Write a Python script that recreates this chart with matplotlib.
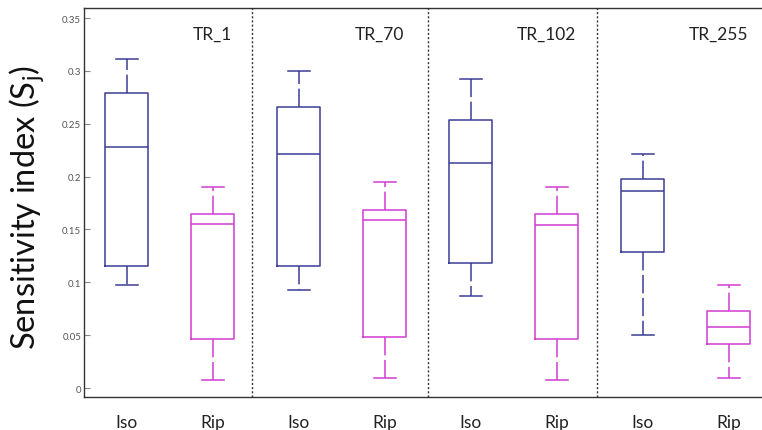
import matplotlib
matplotlib.use("Agg")
import matplotlib.pyplot as plt

# Box statistics per group (whisker low, Q1, median, Q3, whisker high)
groups = ["TR_1", "TR_70", "TR_102", "TR_255"]
labels = ["Iso", "Rip"]

iso_low = [0.097, 0.093, 0.087, 0.050]
iso_q1 = [0.115, 0.115, 0.118, 0.129]
iso_med = [0.228, 0.221, 0.213, 0.186]
iso_q3 = [0.279, 0.266, 0.254, 0.198]
iso_high = [0.311, 0.300, 0.292, 0.221]

rip_low = [0.008, 0.009, 0.008, 0.009]
rip_q1 = [0.046, 0.048, 0.046, 0.042]
rip_med = [0.155, 0.159, 0.154, 0.058]
rip_q3 = [0.165, 0.168, 0.165, 0.073]
rip_high = [0.190, 0.195, 0.190, 0.097]

yticks = [0, 0.05, 0.1, 0.15, 0.2, 0.25, 0.3, 0.35]
ytick_labels = ["0", "0.05", "0.1", "0.15", "0.2", "0.25", "0.3", "0.35"]

iso_color = "#3c3c96"
rip_color = "#d23cd2"

plt.rcParams["font.family"] = ["Lato", "DejaVu Sans"]

fig = plt.figure(figsize=(7.62, 4.31), dpi=100)
ax = fig.add_axes([0.1102, 0.0766, 0.9029, 0.9025])


def stats(low, q1, med, q3, high):
    return [dict(whislo=a, q1=b, med=c, q3=d, whishi=e, fliers=[])
            for a, b, c, d, e in zip(low, q1, med, q3, high)]


iso_pos = [1 + 2 * i for i in range(len(groups))]
rip_pos = [2 + 2 * i for i in range(len(groups))]

for st, pos, col in [(stats(iso_low, iso_q1, iso_med, iso_q3, iso_high), iso_pos, iso_color),
                     (stats(rip_low, rip_q1, rip_med, rip_q3, rip_high), rip_pos, rip_color)]:
    ax.bxp(st, positions=pos, widths=0.5, capwidths=0.25, showfliers=False,
           manage_ticks=False,
           boxprops=dict(color=col, lw=1.1),
           medianprops=dict(color=col, lw=1.1),
           whiskerprops=dict(color=col, lw=1.1, linestyle=(0, (12, 3))),
           capprops=dict(color=col, lw=1.1))

# Dotted separators between groups
for x in [2.45, 4.5, 6.47]:
    ax.axvline(x, color="#333333", lw=1.0, linestyle=(0, (1.5, 1.5)))

# Group titles
for i, g in enumerate(groups):
    ax.text(rip_pos[i] + 0.22, 0.330, g, ha="right", va="baseline",
            fontsize=12.5, color="#222222")

ax.set_xlim(0.5, 8.5)
ax.set_ylim(-0.0085, 0.3595)

ax.set_xticks(iso_pos + rip_pos)
ax.set_xticklabels([labels[0]] * len(groups) + [labels[1]] * len(groups),
                   fontsize=12.5, color="#222222")
ax.tick_params(axis="x", length=0, pad=12)

ax.set_yticks(yticks)
ax.set_yticklabels(ytick_labels, fontsize=7, color="#555555")
ax.tick_params(axis="y", direction="in", length=4, color="#888888", pad=2)

for s in ["left", "bottom", "top"]:
    ax.spines[s].set_color("#333333")
    ax.spines[s].set_linewidth(1.0)
ax.spines["right"].set_visible(False)

ax.set_ylabel("Sensitivity index (S$_\\mathregular{j}$)", fontsize=23.5, color="#111111")
ax.yaxis.label.set_va("center")
ax.yaxis.set_label_coords(-0.083, 0.49)

fig.savefig("out.png", dpi=100)
